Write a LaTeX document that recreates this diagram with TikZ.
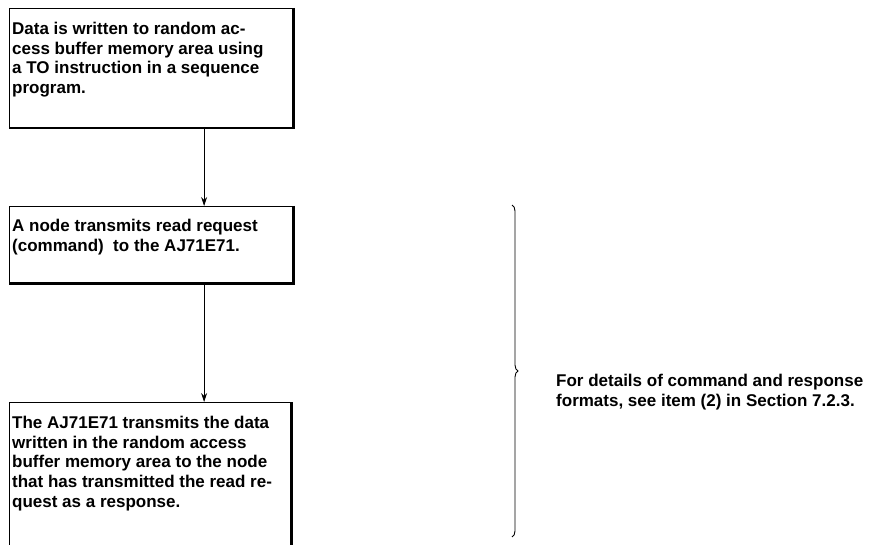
\documentclass[tikz,border=0pt]{standalone}
\usepackage{fontspec}
\setmainfont{Liberation Sans}
\usetikzlibrary{arrows.meta,decorations.pathreplacing}

\tikzset{
  flowbox/.style={draw, line width=1.2pt, rectangle, inner sep=0pt, anchor=north west},
  boxtext/.style={inner sep=0pt, anchor=north west, align=left,
    font=\fontsize{17}{19.7}\selectfont\bfseries},
  heavy/.style={line width=2.6pt},
  flowarrow/.style={line width=0.9pt, -{Stealth[length=9pt,width=6pt]}}
}

\begin{document}
\begin{tikzpicture}[x=1pt,y=1pt]
\useasboundingbox (0,0) rectangle (869,-545);
\clip (0,0) rectangle (869,-545);
% boxes
\node[flowbox, minimum width=283pt, minimum height=119pt] (req) at (9,-8) {};
\node[flowbox, minimum width=283pt, minimum height=76pt] (cmd) at (9,-206) {};
\node[flowbox, minimum width=281pt, minimum height=170pt] (resp) at (9,-402) {};
\draw[heavy] (req.north east) -- (req.south east) -- (req.south west);
\draw[heavy] (cmd.north east) -- (cmd.south east) -- (cmd.south west);
\draw[heavy] (resp.north east) -- (resp.south east);
% texts
\node[boxtext] (reqtext) at (12,-22) {Data is written to random ac-\\cess buffer memory area using\\a TO instruction in a sequence\\program.};
\node[boxtext] (cmdtext) at (12,-219) {A node transmits read request\\(command)\ \ to the AJ71E71.};
\node[boxtext] (resptext) at (12,-416) {The AJ71E71 transmits the data\\written in the random access\\buffer memory area to the node\\that has transmitted the read re-\\quest as a response.};
% arrows
\draw[flowarrow] ([xshift=53pt]req.south) -- ([xshift=53pt]cmd.north);
\draw[flowarrow] ([xshift=53pt]cmd.south) -- ([xshift=54pt]resp.north);
% brace and note
\coordinate (bracetop) at (512,-205);
\coordinate (bracebot) at (512,-537);
\draw[line width=0.9pt, decorate, decoration={brace, amplitude=6pt}] (bracetop) -- (bracebot);
\node[boxtext] (note) at (556,-374) {For details of command and response\\formats, see item (2) in Section 7.2.3.};
\end{tikzpicture}
\end{document}
